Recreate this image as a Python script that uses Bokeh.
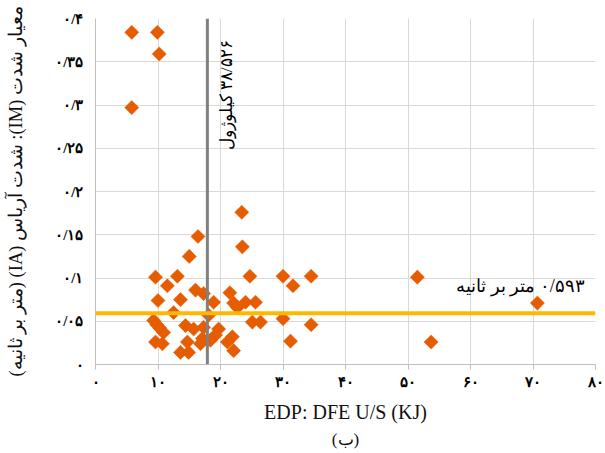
import numpy as np
from bokeh.plotting import figure
from bokeh.models import Range1d, FixedTicker, Span, Label, Title, ColumnDataSource
from bokeh.embed import file_html
from bokeh.resources import INLINE

# ---- data ----
edp = [5.8, 9.9, 10.2, 5.8,
       23.4, 16.4, 23.5, 15.0,
       9.6, 13.1, 24.7, 30.0, 34.5, 51.5,
       11.5, 31.6,
       16.0, 17.3, 21.5,
       10.0, 13.6, 18.9, 22.1, 24.0, 25.6, 70.7,
       22.7,
       12.5, 18.1,
       30.0,
       9.3, 9.8, 10.3, 10.9,
       14.4, 15.7, 25.1, 26.4, 34.5,
       19.7, 17.3,
       19.2, 21.9,
       18.4, 21.1, 17.1,
       9.6, 10.7, 14.7, 16.8, 31.2, 53.7,
       22.1,
       13.6, 14.9]
ia = [0.384, 0.384, 0.359, 0.297,
      0.176, 0.148, 0.136, 0.125,
      0.101, 0.102, 0.102, 0.102, 0.102, 0.101,
      0.091, 0.091,
      0.086, 0.082, 0.083,
      0.074, 0.075, 0.072, 0.071, 0.072, 0.072, 0.071,
      0.066,
      0.060, 0.057,
      0.053,
      0.051, 0.046, 0.042, 0.037,
      0.045, 0.041, 0.049, 0.049, 0.046,
      0.041, 0.043,
      0.034, 0.032,
      0.028, 0.026, 0.030,
      0.026, 0.024, 0.026, 0.024, 0.027, 0.026,
      0.016,
      0.014, 0.014]

x_ticks = [0, 10, 20, 30, 40, 50, 60, 70, 80]
x_tick_labels = ["۰", "۱۰", "۲۰", "۳۰", "۴۰", "۵۰", "۶۰", "۷۰", "۸۰"]
y_ticks = [0, 0.05, 0.1, 0.15, 0.2, 0.25, 0.3, 0.35, 0.4]
y_tick_labels = ["۰", "۰/۰۵", "۰/۱", "۰/۱۵", "۰/۲", "۰/۲۵", "۰/۳", "۰/۳۵", "۰/۴"]

edp_threshold = 17.9     # vertical reference line
ia_threshold = 0.0593    # horizontal reference line
edp_label = "\u200f۳۸/۵۲۶ کیلوژول"
ia_label = "\u200f۰/۵۹۳ متر بر ثانیه"
x_title = "EDP: DFE U/S (KJ)"
y_title = "\u202bمعیار شدت (IM): شدت آریاس (IA) (متر بر ثانیه)\u202c"
caption = "(ب)"

SERIF = "Liberation Serif"

p = figure(width=605, height=453, output_backend="svg", toolbar_location=None,
           x_range=Range1d(0, 80), y_range=Range1d(0, 0.4),
           min_border_left=95, min_border_right=10, min_border_top=18, min_border_bottom=89)
p.outline_line_color = None
p.background_fill_color = "white"
p.border_fill_color = "white"

# grids
for g in (p.xgrid, p.ygrid):
    g.grid_line_color = "#D9D9D9"
    g.grid_line_width = 1
p.xgrid.ticker = FixedTicker(ticks=x_ticks)
p.ygrid.ticker = FixedTicker(ticks=y_ticks)

# axes
xa = p.xaxis[0]
xa.ticker = FixedTicker(ticks=x_ticks)
xa.major_label_overrides = {t: l for t, l in zip(x_ticks, x_tick_labels)}
xa.axis_line_color = "#BFBFBF"
xa.major_tick_line_color = "#BFBFBF"
xa.major_tick_out = 5
xa.major_tick_in = 0
xa.minor_tick_line_color = None
xa.major_label_text_font = SERIF
xa.major_label_text_font_size = "15px"
xa.major_label_text_font_style = "bold"
xa.major_label_text_color = "black"
xa.major_label_standoff = 4
xa.axis_label = x_title
xa.axis_label_text_font = SERIF
xa.axis_label_text_font_size = "20px"
xa.axis_label_text_font_style = "normal"
xa.axis_label_text_color = "#111111"
xa.axis_label_standoff = 8

ya = p.yaxis[0]
ya.ticker = FixedTicker(ticks=y_ticks)
ya.major_label_overrides = {t: l for t, l in zip(y_ticks, y_tick_labels)}
ya.axis_line_color = "#BFBFBF"
ya.major_tick_line_color = None
ya.minor_tick_line_color = None
ya.major_label_text_font = SERIF
ya.major_label_text_font_size = "15px"
ya.major_label_text_font_style = "bold"
ya.major_label_text_color = "black"
ya.major_label_standoff = 6
ya.axis_label = y_title
ya.axis_label_text_font = SERIF
ya.axis_label_text_font_size = "18.5px"
ya.axis_label_text_font_style = "normal"
ya.axis_label_text_color = "#111111"
ya.axis_label_standoff = 26

# points
src = ColumnDataSource(dict(x=edp, y=ia))
p.scatter("x", "y", source=src, marker="square", size=10, angle=np.pi / 4,
          fill_color="#E65C00", line_color="#E65C00", line_width=0.5)

# reference lines
p.add_layout(Span(location=edp_threshold, dimension="height", line_color="#808080", line_width=3))
p.add_layout(Span(location=ia_threshold, dimension="width", line_color="#FFB800", line_width=4))

# annotations
p.add_layout(Label(x=20.9, y=0.311, text=edp_label, angle=np.pi / 2,
                   text_align="center", text_baseline="middle",
                   text_font=SERIF, text_font_size="17px", text_color="black"))
p.add_layout(Label(x=68.0, y=0.0905, text=ia_label,
                   text_align="center", text_baseline="middle",
                   text_font=SERIF, text_font_size="18px", text_color="black"))

p.add_layout(Title(text=caption, align="center", text_font=SERIF, text_font_size="17px",
                   text_font_style="normal", text_color="#111111", standoff=4), "below")

open("out.html", "w").write(file_html(p, INLINE))
